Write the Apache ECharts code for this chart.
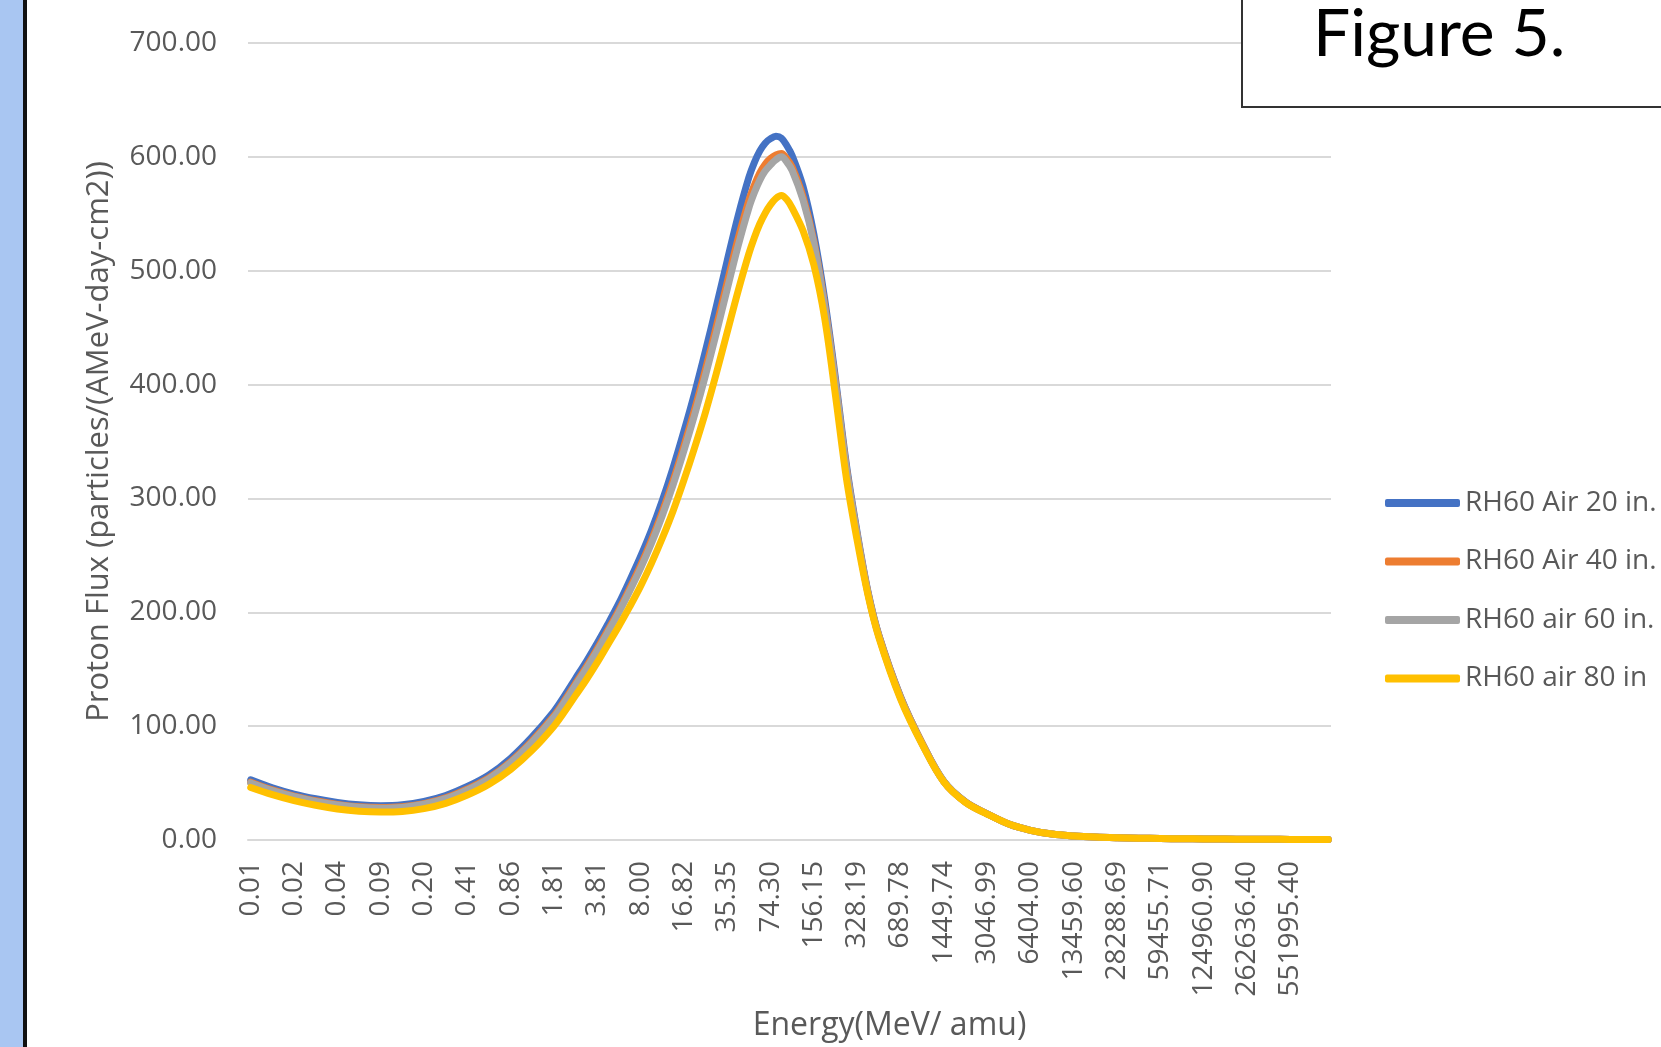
<!DOCTYPE html>
<html>
<head>
<meta charset="utf-8">
<script src="https://cdn.jsdelivr.net/npm/echarts@6.0.0/dist/echarts.min.js"></script>
<style>
  html, body { margin: 0; padding: 0; background: #ffffff; }
  #chart { width: 1661px; height: 1047px; }
</style>
</head>
<body>
<div id="chart"></div>
<script>
// Energy tick labels (MeV/amu); one labelled tick every 8 energy bins
const energyTicks = ['0.01', '0.02', '0.04', '0.09', '0.20', '0.41', '0.86', '1.81', '3.81', '8.00',
  '16.82', '35.35', '74.30', '156.15', '328.19', '689.78', '1449.74', '3046.99', '6404.00',
  '13459.60', '28288.69', '59455.71', '124960.90', '262636.40', '551995.40'];
const binsPerTick = 8;
const binCount = 200;

// Energy-bin indices at which the flux is tabulated
const sampleBins = [0, 4, 8, 12, 16, 20, 24, 28, 32, 36, 40, 44, 48, 52, 56,
  58, 60, 62, 64, 66, 68, 70, 72, 74, 76, 78, 80, 82, 84, 86, 88, 90,
  92, 93, 94, 95, 96, 97, 98, 99, 100,
  102, 104, 106, 108, 110, 112, 114, 116,
  120, 124, 128, 132, 136, 140, 144, 148, 152, 156, 160, 164, 168, 172, 176, 180, 184, 188, 192, 196, 199];

// Proton flux, particles/(AMeV-day-cm2)
const fluxAir20 = [52.8, 45.8, 40.3, 36.2, 33.0, 30.9, 30.1, 30.9, 33.9, 39.1, 47.0, 57.2, 71.8, 90.8, 113,
  127, 142, 157, 173, 190, 208, 228, 249, 272, 298, 327, 359, 393, 430, 469, 509, 548,
  582, 595, 605, 612, 616, 618, 616.5, 610, 601,
  574, 532, 475, 405, 330, 270, 218, 180,
  126, 85, 51.5, 33.5, 23, 14, 8.5, 5.2, 3.6, 2.6, 2.0, 1.6, 1.3, 1.1, 0.9, 0.8, 0.7, 0.6, 0.5, 0.4, 0.4];
const fluxAir40 = [50.8, 44.0, 38.6, 34.5, 31.3, 29.2, 28.5, 29.2, 32.0, 37.0, 44.8, 54.7, 68.9, 87.3, 109.1,
  122.8, 137.5, 152.2, 167.9, 184.6, 202, 221.1, 241.2, 263.3, 288.1, 315.6, 346.1, 378.6, 413.8, 451.3, 490.1, 528.2,
  561.9, 575, 585.8, 593.5, 598.6, 601.8, 603, 598.5, 591,
  565, 526, 470, 401, 327, 268, 217, 179.5,
  125.5, 85, 51.3, 33.3, 23, 14, 8.5, 5.2, 3.6, 2.6, 2.0, 1.6, 1.3, 1.1, 0.9, 0.8, 0.7, 0.6, 0.5, 0.4, 0.4];
const fluxAir60 = [50.1, 43.4, 38.0, 33.9, 30.7, 28.7, 27.9, 28.6, 31.4, 36.3, 44.0, 53.9, 67.9, 86.1, 107.8,
  121.4, 136, 150.6, 166.2, 182.8, 200, 218.8, 238.6, 260.4, 284.8, 311.8, 341.8, 373.8, 408.4, 445.4, 483.8, 521.6,
  555.2, 568.5, 579.4, 587.5, 593, 597.5, 600, 595.5, 588,
  562, 524, 468, 400, 326, 267.5, 216.5, 179,
  125, 84.5, 51.2, 33.2, 22.9, 14, 8.5, 5.2, 3.6, 2.6, 2.0, 1.6, 1.3, 1.1, 0.9, 0.8, 0.7, 0.6, 0.5, 0.4, 0.4];
const fluxAir80 = [46.1, 39.8, 34.6, 30.5, 27.3, 25.3, 24.6, 25.1, 27.6, 32.2, 39.5, 49.0, 62.0, 79.0, 100,
  113, 127, 141, 156, 172, 188, 205, 223, 243, 265, 289, 316, 345, 376, 410, 446, 482,
  515, 529, 541, 550.5, 558, 563.5, 566, 562.5, 555,
  535, 505, 458, 390, 318, 263, 215, 178,
  124, 84, 51, 33, 22.8, 14, 8.5, 5.2, 3.6, 2.6, 2.0, 1.6, 1.3, 1.1, 0.9, 0.8, 0.7, 0.6, 0.5, 0.4, 0.4];

const seriesNames = ['RH60 Air 20 in.', 'RH60 Air 40 in.', 'RH60 air 60 in.', 'RH60 air 80 in'];
const seriesValues = [fluxAir20, fluxAir40, fluxAir60, fluxAir80];
const seriesColors = ['#4472C4', '#ED7D31', '#A5A5A5', '#FFC000'];

// Category axis: every energy bin, only every 8th carries a printed label
const categories = [];
for (let i = 0; i < binCount; i++) {
  categories.push(i % binsPerTick === 0 && energyTicks[i / binsPerTick] !== undefined
    ? energyTicks[i / binsPerTick] : '');
}

const FONT = '"Open Sans", "DejaVu Sans", sans-serif';
const chart = echarts.init(document.getElementById('chart'), null, { renderer: 'canvas' });

chart.setOption({
  backgroundColor: '#ffffff',
  animation: false,
  grid: { left: 248, right: 330, top: 43, bottom: 205, containLabel: false },
  legend: {
    orient: 'vertical',
    left: 1380,
    top: 483,
    itemWidth: 75,
    itemHeight: 8,
    itemGap: 28.5,
    icon: 'roundRect',
    textStyle: { fontFamily: FONT, fontSize: 28, color: '#595959', lineHeight: 30 },
    data: seriesNames
  },
  xAxis: {
    type: 'category',
    data: categories,
    boundaryGap: true,
    name: 'Energy(MeV/ amu)',
    nameLocation: 'middle',
    nameGap: 170,
    nameTextStyle: { fontFamily: FONT, fontSize: 32, color: '#595959', padding: [0, 0, 0, 200] },
    axisLine: { show: true, lineStyle: { color: '#D9D9D9', width: 2 } },
    axisTick: { show: false },
    axisLabel: {
      interval: binsPerTick - 1,
      rotate: 90,
      margin: 21,
      fontFamily: FONT,
      fontSize: 28,
      color: '#595959'
    },
    splitLine: { show: false }
  },
  yAxis: {
    type: 'value',
    min: 0,
    max: 700,
    interval: 100,
    name: 'Proton Flux (particles/(AMeV-day-cm2))',
    nameLocation: 'middle',
    nameGap: 133,
    nameTextStyle: { fontFamily: FONT, fontSize: 31, color: '#595959' },
    axisLine: { show: false },
    axisTick: { show: false },
    axisLabel: {
      margin: 31,
      fontFamily: FONT,
      fontSize: 28,
      color: '#595959',
      formatter: v => v.toFixed(2)
    },
    splitLine: { lineStyle: { color: '#D9D9D9', width: 2 } }
  },
  series: seriesNames.map((name, k) => ({
    name: name,
    type: 'line',
    smooth: 0.35,
    symbol: 'none',
    color: seriesColors[k],
    lineStyle: { width: 7, color: seriesColors[k], cap: 'round', join: 'round' },
    data: sampleBins.map((b, j) => [b, seriesValues[k][j]])
  })),
  graphic: [
    { type: 'rect', shape: { x: 0, y: 0, width: 23, height: 1047 },
      style: { fill: '#A9C6F2' }, z: 100 },
    { type: 'rect', shape: { x: 23, y: 0, width: 4, height: 1047 },
      style: { fill: '#111111' }, z: 100 },
    { type: 'rect', shape: { x: 1242, y: -10, width: 440, height: 117 },
      style: { fill: '#ffffff', stroke: '#333333', lineWidth: 2 }, z: 100 },
    { type: 'text', x: 1313, y: 35, z: 101,
      style: { text: 'Figure 5.', fontFamily: 'Lato, "Open Sans", sans-serif', fontSize: 66,
        fill: '#000000', verticalAlign: 'middle', align: 'left' } }
  ]
});
</script>
</body>
</html>
